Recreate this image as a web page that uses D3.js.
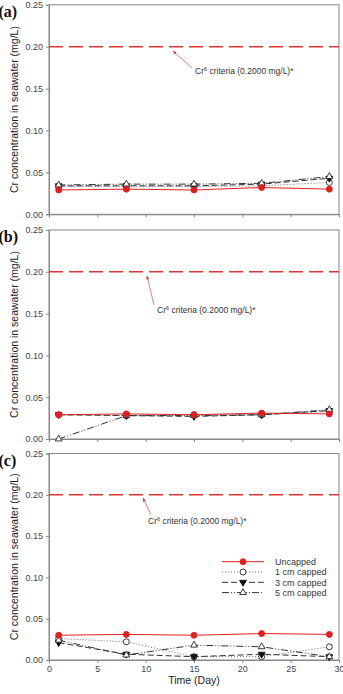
<!DOCTYPE html>
<html><head><meta charset="utf-8">
<script src="https://cdn.jsdelivr.net/npm/d3@7"></script>
<style>html,body{margin:0;padding:0;background:#fff}svg{display:block}</style>
</head><body>
<svg id="chart" width="343" height="694"></svg>
<script>
const days = [1, 8, 15, 22, 29];
const seriesNames = ["Uncapped", "1 cm capped", "3 cm capped", "5 cm capped"];
const panelLabels = ["(a)", "(b)", "(c)"];
const yTicks = [0, 0.05, 0.10, 0.15, 0.20, 0.25];
const xTicks = [0, 5, 10, 15, 20, 25, 30];
const criterion = 0.20;
const criterionLabel = "criteria (0.2000 mg/L)*";
const yTitle = "Cr concentration in seawater (mg/L)";
const xTitle = "Time (Day)";

const uncappedA = [0.029, 0.030, 0.029, 0.032, 0.030];
const cap1A     = [0.033, 0.033, 0.033, 0.034, 0.038];
const cap3A     = [0.034, 0.034, 0.034, 0.036, 0.043];
const cap5A     = [0.035, 0.036, 0.036, 0.037, 0.045];

const uncappedB = [0.029, 0.030, 0.029, 0.031, 0.030];
const cap1B     = [0.029, 0.028, 0.029, 0.029, 0.033];
const cap3B     = [0.029, 0.028, 0.027, 0.029, 0.034];
const cap5B     = [0.000, 0.028, 0.028, 0.029, 0.035];

const uncappedC = [0.030, 0.031, 0.030, 0.032, 0.031];
const cap1C     = [0.026, 0.022, 0.004, 0.004, 0.016];
const cap3C     = [0.021, 0.007, 0.004, 0.007, 0.004];
const cap5C     = [0.024, 0.006, 0.018, 0.016, 0.004];

const panelData = [
  [uncappedA, cap1A, cap3A, cap5A],
  [uncappedB, cap1B, cap3B, cap5B],
  [uncappedC, cap1C, cap3C, cap5C]
];

// layout
const panels = [
  {top: 4.8, bottom: 214.3, ann: {tx: 195, ty: 74, x1: 192, y1: 68, x2: 173, y2: 51}},
  {top: 230, bottom: 439, ann: {tx: 157, ty: 313, x1: 154, y1: 305, x2: 147, y2: 276}},
  {top: 453.5, bottom: 660, ann: {tx: 148, ty: 524, x1: 151, y1: 515, x2: 143, y2: 498}}
];
const left = 49, right = 339;
const styles = [
  {stroke: "#e02020", dash: null, width: 1, marker: "circle", fill: "#e02020", mstroke: "#e02020"},
  {stroke: "#666", dash: "1,2", width: 1, marker: "circle", fill: "#fff", mstroke: "#222"},
  {stroke: "#333", dash: "6,3", width: 1, marker: "down", fill: "#111", mstroke: "#111"},
  {stroke: "#333", dash: "7,2,1,2,1,2", width: 1, marker: "up", fill: "#fff", mstroke: "#222"}
];

const svg = d3.select("#chart");
const x = d3.scaleLinear().domain([0, 30]).range([left, right]);

function drawMarker(g, type, cx, cy, st) {
  if (type === "circle") {
    g.append("circle").attr("cx", cx).attr("cy", cy).attr("r", 3)
      .attr("fill", st.fill).attr("stroke", st.mstroke).attr("stroke-width", 0.9);
  } else {
    const sym = d3.symbol().type(d3.symbolTriangle).size(20);
    g.append("path").attr("d", sym())
      .attr("transform", `translate(${cx},${cy})` + (type === "down" ? " rotate(180)" : ""))
      .attr("fill", st.fill).attr("stroke", st.mstroke).attr("stroke-width", 0.9);
  }
}

svg.append("defs").append("marker").attr("id", "arr")
  .attr("viewBox", "0 0 10 10").attr("refX", 9).attr("refY", 5)
  .attr("markerWidth", 5).attr("markerHeight", 5).attr("orient", "auto")
  .append("path").attr("d", "M0,1 L10,5 L0,9 z").attr("fill", "#d04040");

panels.forEach((p, i) => {
  const y = d3.scaleLinear().domain([0, 0.25]).range([p.bottom, p.top]);
  const g = svg.append("g");

  // frame
  g.append("rect").attr("x", left).attr("y", p.top).attr("width", right - left)
    .attr("height", p.bottom - p.top).attr("fill", "none").attr("stroke", "#888").attr("stroke-width", 1);

  // y axis
  const ya = g.append("g").attr("transform", `translate(${left},0)`)
    .call(d3.axisLeft(y).tickValues(yTicks).tickFormat(d3.format(".2f")).tickSize(3).tickPadding(3));
  ya.select(".domain").attr("stroke", "#888");
  ya.selectAll(".tick line").attr("stroke", "#888");
  ya.selectAll("text").attr("font-family", "Arial, 'Liberation Sans', sans-serif")
    .attr("font-size", 9).attr("fill", "#444");

  // x axis
  const xa = g.append("g").attr("transform", `translate(0,${p.bottom})`)
    .call(d3.axisBottom(x).tickValues(xTicks).tickSize(3).tickPadding(3)
      .tickFormat(i === 2 ? d3.format("d") : () => ""));
  xa.select(".domain").attr("stroke", "#888");
  xa.selectAll(".tick line").attr("stroke", "#888");
  xa.selectAll("text").attr("font-family", "Arial, 'Liberation Sans', sans-serif")
    .attr("font-size", 9).attr("fill", "#444");

  // criterion line
  g.append("line").attr("x1", left).attr("x2", right).attr("y1", y(criterion)).attr("y2", y(criterion))
    .attr("stroke", "#e03535").attr("stroke-width", 1.5).attr("stroke-dasharray", "14,6");

  // annotation
  g.append("line").attr("x1", p.ann.x1).attr("y1", p.ann.y1).attr("x2", p.ann.x2).attr("y2", p.ann.y2)
    .attr("stroke", "#d06060").attr("stroke-width", 0.8).attr("marker-end", "url(#arr)");
  const t = g.append("text").attr("x", p.ann.tx).attr("y", p.ann.ty)
    .attr("font-family", "Arial, 'Liberation Sans', sans-serif").attr("font-size", 8.5).attr("fill", "#333");
  t.append("tspan").text("Cr");
  t.append("tspan").attr("dy", -3.5).attr("font-size", 5.5).text("6");
  t.append("tspan").attr("dy", 3.5).text(" " + criterionLabel);

  // y title
  g.append("text").attr("transform", `translate(18,${(p.top + p.bottom) / 2}) rotate(-90)`)
    .attr("text-anchor", "middle").attr("font-family", "Arial, 'Liberation Sans', sans-serif")
    .attr("font-size", 10.5).attr("fill", "#222").text(yTitle);

  // panel label
  g.append("text").attr("x", -1.5).attr("y", p.top + 12)
    .attr("font-family", "'Liberation Serif', 'Times New Roman', serif").attr("font-weight", "bold")
    .attr("font-size", 16).attr("fill", "#111").text(panelLabels[i]);

  // series
  const line = d3.line().x((d, k) => x(days[k])).y(d => y(d));
  const order = [1, 2, 3, 0];
  order.forEach(s => {
    const st = styles[s];
    g.append("path").datum(panelData[i][s]).attr("d", line).attr("fill", "none")
      .attr("stroke", st.stroke).attr("stroke-width", st.width)
      .attr("stroke-dasharray", st.dash);
  });
  order.forEach(s => {
    const st = styles[s];
    panelData[i][s].forEach((v, k) => drawMarker(g, st.marker, x(days[k]), y(v), st));
  });

  if (i === 2) {
    const lg = g.append("g");
    seriesNames.forEach((name, s) => {
      const st = styles[s];
      const ly = 561.7 + s * 10.3;
      lg.append("line").attr("x1", 222).attr("x2", 264).attr("y1", ly).attr("y2", ly)
        .attr("stroke", st.stroke).attr("stroke-width", st.width).attr("stroke-dasharray", st.dash);
      drawMarker(lg, st.marker, 243, ly, st);
      lg.append("text").attr("x", 275).attr("y", ly + 3.2)
        .attr("font-family", "Arial, 'Liberation Sans', sans-serif").attr("font-size", 9)
        .attr("fill", "#333").text(name);
    });
    g.append("text").attr("x", (left + right) / 2).attr("y", 684)
      .attr("text-anchor", "middle").attr("font-family", "Arial, 'Liberation Sans', sans-serif")
      .attr("font-size", 10.5).attr("fill", "#222").text(xTitle);
  }
});
</script>
</body></html>
